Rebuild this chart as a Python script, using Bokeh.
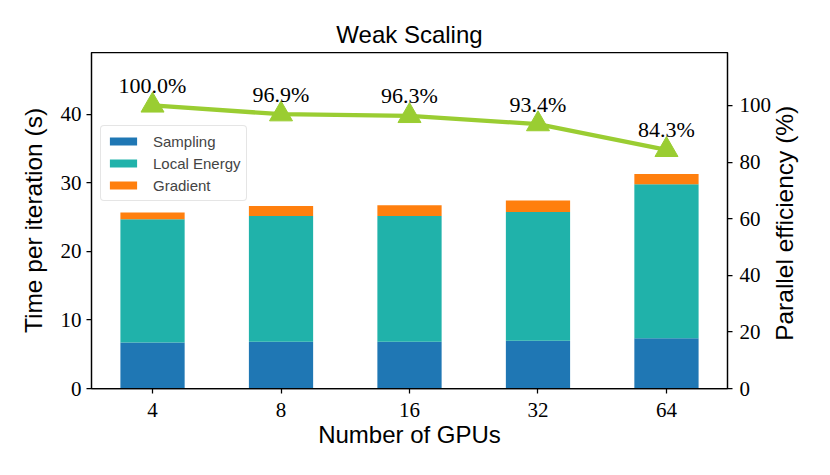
import math
from bokeh.plotting import figure
from bokeh.models import Range1d, LinearAxis, FixedTicker, ColumnDataSource, Legend, FactorRange
from bokeh.core.properties import value
from bokeh.embed import file_html
from bokeh.resources import INLINE

gpus = ["4", "8", "16", "32", "64"]
sampling = [6.7, 6.83, 6.83, 6.98, 7.32]
local_energy = [18.0, 18.34, 18.34, 18.77, 22.48]
gradient = [0.96, 1.46, 1.56, 1.65, 1.47]
efficiency = [100.0, 96.9, 96.3, 93.4, 84.3]
eff_labels = ["100.0%", "96.9%", "96.3%", "93.4%", "84.3%"]

series_names = ["Sampling", "Local Energy", "Gradient"]
series_colors = ["#1f77b4", "#20b2aa", "#ff7f0e"]

SERIF = "Liberation Serif"
SANS = "Liberation Sans"

p = figure(x_range=FactorRange(factors=gpus, range_padding=-0.01),
           y_range=Range1d(0, 49), width=814, height=459,
           output_backend="svg", toolbar_location=None,
           min_border_left=91, min_border_right=87, min_border_top=52, min_border_bottom=71,
           title="Weak Scaling")
p.extra_y_ranges = {"eff": Range1d(0, 118.7)}

src = ColumnDataSource(dict(gpus=gpus, Sampling=sampling, **{"Local Energy": local_energy}, Gradient=gradient))
renderers = p.vbar_stack(series_names, x="gpus", width=0.5, source=src,
                         color=series_colors, line_color=None)

eff_src = ColumnDataSource(dict(gpus=gpus, eff=efficiency, lab=eff_labels))
p.line("gpus", "eff", source=eff_src, y_range_name="eff", line_color="#9acd32", line_width=4.3)
p.scatter("gpus", "eff", source=eff_src, y_range_name="eff", marker="triangle",
          size=23, fill_color="#9acd32", line_color="#9acd32")
p.text("gpus", "eff", text="lab", source=eff_src, y_range_name="eff",
       text_align="center", text_baseline="middle", y_offset=-20,
       text_font=value(SERIF), text_font_size="22px", text_color="black")

legend = Legend(items=[(n, [r]) for n, r in zip(series_names, renderers)],
                location=(9, 187))
legend.label_text_font = SANS
legend.label_text_font_size = "15px"
legend.glyph_width = 34
legend.glyph_height = 10
legend.label_height = 20
legend.spacing = 2
legend.padding = 5
legend.label_standoff = 13
legend.border_line_color = "#cccccc"
legend.border_radius = 4
legend.background_fill_alpha = 0.8
p.add_layout(legend, "center")

right = LinearAxis(y_range_name="eff", ticker=FixedTicker(ticks=[0, 20, 40, 60, 80, 100]))
p.add_layout(right, "right")

p.yaxis[0].ticker = FixedTicker(ticks=[0, 10, 20, 30, 40])
p.yaxis[0].axis_label = "Time per iteration (s)"
p.xaxis.axis_label = "Number of GPUs"

for ax in p.xaxis + p.yaxis:
    ax.major_label_text_font = SERIF
    ax.major_label_text_font_size = "21px"
    ax.major_label_text_color = "black"
    ax.axis_label_text_font = SANS
    ax.axis_label_text_font_size = "24px"
    ax.axis_label_text_font_style = "normal"
    ax.axis_label_text_color = "black"
    ax.axis_line_color = "black"
    ax.axis_line_width = 1.25
    ax.major_tick_line_color = "black"
    ax.major_tick_line_width = 1.25
    ax.major_tick_out = 5
    ax.major_tick_in = 0
    ax.minor_tick_line_color = None

p.xaxis.major_label_standoff = 9
p.xaxis.axis_label_standoff = 1
p.yaxis[0].major_label_standoff = 5
p.yaxis[0].axis_label_standoff = 11
p.yaxis[0].axis_label_text_font_size = "24.5px"
right.major_label_standoff = 7
right.axis_label_standoff = 10
right.axis_label_text_font_size = "24.5px"

try:
    right.axis_label_align = "start"
    right.axis_label_orientation = math.pi / 2
    right.axis_label = "\u00a0" * 7 + "Parallel efficiency (%)"
except AttributeError:
    right.axis_label = "Parallel efficiency (%)"

p.xgrid.grid_line_color = None
p.ygrid.grid_line_color = None
p.outline_line_color = "black"
p.outline_line_width = 1.25
p.outline_line_alpha = 1

p.title.align = "center"
p.title.text_font = SANS
p.title.text_font_size = "24px"
p.title.text_font_style = "normal"
p.title.text_color = "black"

open("out.html", "w").write(file_html(p, INLINE))
